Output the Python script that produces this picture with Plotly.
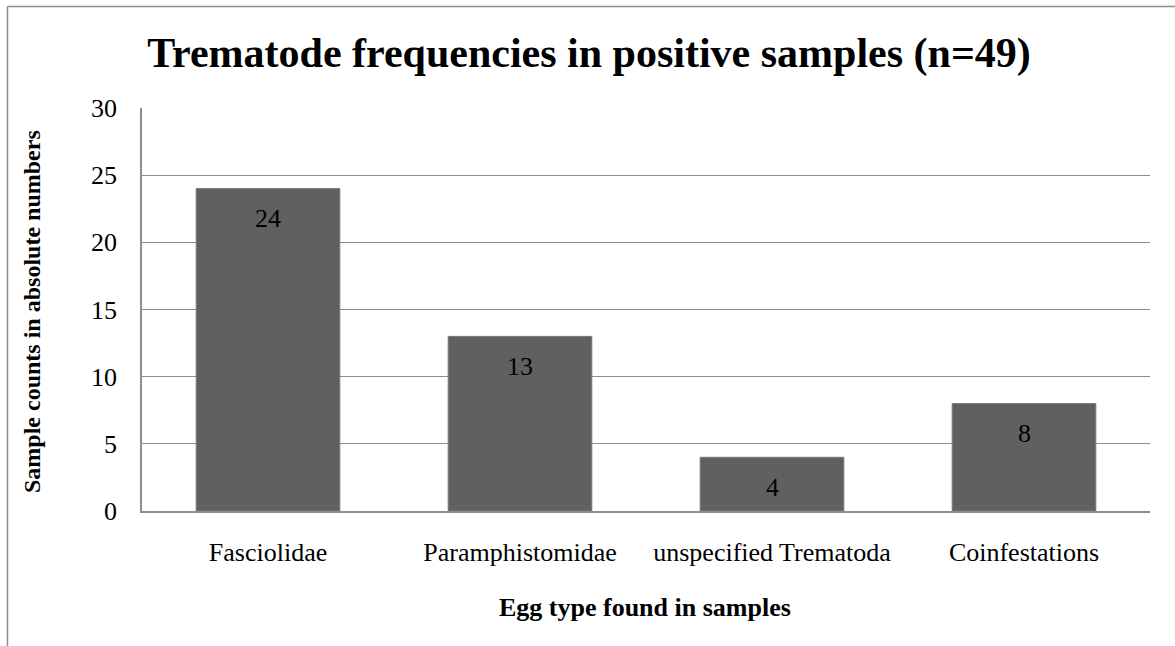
import plotly.graph_objects as go

categories = ["Fasciolidae", "Paramphistomidae", "unspecified Trematoda", "Coinfestations"]
counts = [24, 13, 4, 8]
y_ticks = [0, 5, 10, 15, 20, 25, 30]

W, H = 1175, 646
L, R, T, B = 142, 25, 108, 135
pw, ph = W - L - R, H - T - B

font = "Liberation Serif, Times New Roman, serif"
FS = 26

fig = go.Figure(go.Bar(
    x=categories, y=counts,
    marker=dict(color="#606060", line=dict(color="#7a7a7a", width=1)),
    width=0.57,
))

for c, v in zip(categories, counts):
    fig.add_annotation(x=c, y=v, text=str(v), showarrow=False, yshift=-30,
                       xanchor="center", yanchor="middle",
                       font=dict(family=font, size=FS, color="black"))

def px_x(p):
    return (p - L) / pw

def px_y(p):
    return (H - B - p) / ph

fig.update_layout(
    width=W, height=H,
    margin=dict(l=L, r=R, t=T, b=B),
    paper_bgcolor="white", plot_bgcolor="white",
    showlegend=False,
    font=dict(family=font, size=FS, color="black"),
    title=dict(text="<b>Trematode frequencies in positive samples (n=49)</b>",
               font=dict(family=font, size=42, color="black"),
               x=589 / W, xanchor="center", y=1 - 52 / H, yanchor="middle"),
    xaxis=dict(showgrid=False, showline=True, linecolor="#8c8c8c", linewidth=1.5,
               ticks="", tickfont=dict(size=FS), ticklabelstandoff=17),
    yaxis=dict(range=[0, 30], tickvals=y_ticks, showgrid=True, gridcolor="#8c8c8c",
               gridwidth=1.2, showline=True, linecolor="#8c8c8c", linewidth=1.5,
               ticks="", tickfont=dict(size=FS), ticklabelstandoff=18, zeroline=False),
)

fig.add_annotation(text="<b>Egg type found in samples</b>", xref="paper", yref="paper",
                   x=px_x(645), y=px_y(607), showarrow=False,
                   font=dict(family=font, size=FS, color="black"),
                   xanchor="center", yanchor="middle")
fig.add_annotation(text="<b>Sample counts in absolute numbers</b>", xref="paper", yref="paper",
                   x=px_x(32), y=px_y(312), showarrow=False, textangle=-90,
                   font=dict(family=font, size=24, color="black"),
                   xanchor="center", yanchor="middle")

# outer chart border (left and top visible)
fig.add_shape(type="line", xref="paper", yref="paper",
              x0=px_x(7.5), x1=px_x(7.5), y0=px_y(6.5), y1=px_y(660),
              line=dict(color="#8c8c8c", width=1.5))
fig.add_shape(type="line", xref="paper", yref="paper",
              x0=px_x(7.5), x1=px_x(1200), y0=px_y(6.5), y1=px_y(6.5),
              line=dict(color="#8c8c8c", width=1.5))

fig.write_html("out.html")
